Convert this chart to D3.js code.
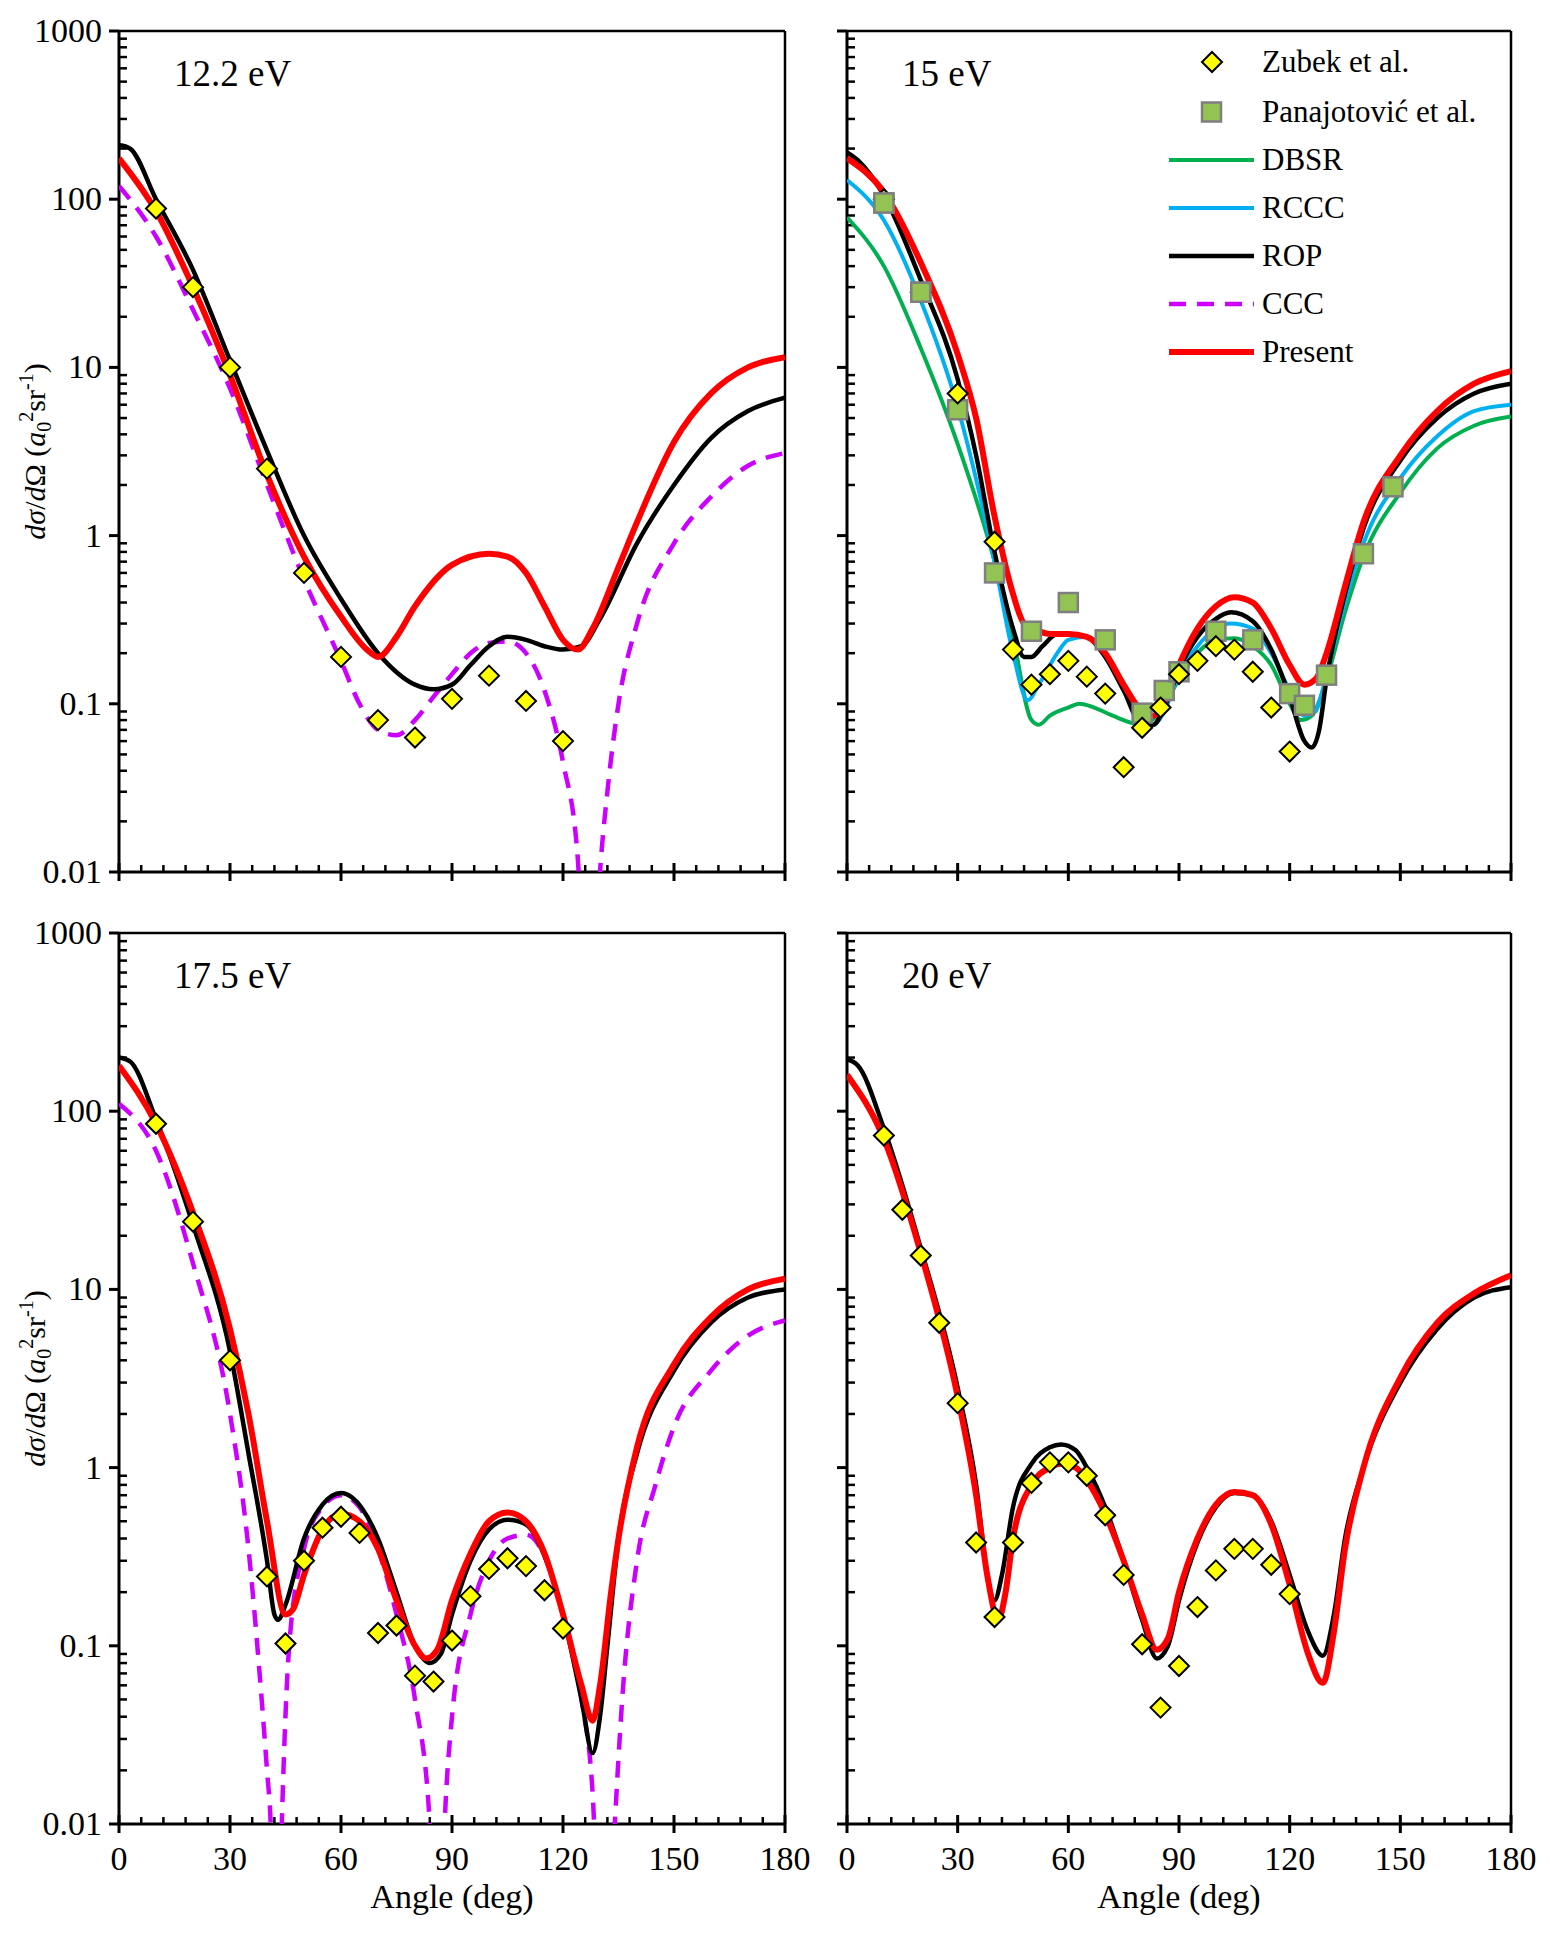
<!DOCTYPE html>
<html><head><meta charset="utf-8">
<script src="https://cdn.jsdelivr.net/npm/d3@7"></script>
<style>body{margin:0;background:#fff}text{font-family:"Liberation Serif","DejaVu Serif",serif;fill:#000}</style>
</head><body><svg id="c" width="1550" height="1935"></svg>
<script>
// ---------- DATA ([angle deg, DCS a0^2 sr^-1]) ----------
const panelTitles = ["12.2 eV","15 eV","17.5 eV","20 eV"];
const xTicks = [0,30,60,90,120,150,180];
const yTicks = [0.01,0.1,1,10,100,1000];
const yTickLabels = ["0.01","0.1","1","10","100","1000"];
const legendLabels = ["Zubek et al.","Panajotović et al.","DBSR","RCCC","ROP","CCC","Present"];

// 12.2 eV
const zubek12 = [[10,88],[20,30],[30,10],[40,2.5],[50,0.6],[60,0.19],[70,0.08],[80,0.063],[90,0.107],[100,0.147],[110,0.104],[120,0.06]];
const rop12 = [[0,210],[3,200],[10,100],[20,38],[30,11],[40,3.2],[50,1.0],[60,0.42],[70,0.2],[80,0.13],[85,0.122],[90,0.13],[95,0.17],[100,0.22],[105,0.25],[110,0.24],[115,0.22],[120,0.21],[125,0.22],[130,0.32],[140,0.9],[150,2.0],[160,3.8],[170,5.5],[180,6.6]];
const present12 = [[0,175],[10,85],[20,30],[30,9],[40,2.3],[50,0.75],[60,0.33],[67,0.21],[70,0.19],[75,0.25],[80,0.38],[90,0.67],[100,0.78],[105,0.75],[110,0.6],[115,0.38],[120,0.24],[124,0.21],[128,0.28],[135,0.65],[140,1.2],[150,3.6],[160,7.0],[170,10],[180,11.5]];
const ccc12 = [[0,120],[10,60],[20,22],[30,7.5],[40,2.0],[50,0.55],[60,0.18],[65,0.1],[70,0.07],[75,0.065],[80,0.08],[85,0.11],[90,0.15],[95,0.2],[100,0.23],[105,0.235],[110,0.2],[115,0.12],[120,0.045],[124,0.012],[127,0.0005],[130,0.01],[132,0.03],[135,0.1],[140,0.3],[150,0.9],[160,1.7],[170,2.6],[180,3.1]];

// 15 eV
const zubek15 = [[10,100],[20,28],[30,7],[40,0.92],[45,0.21],[50,0.13],[55,0.15],[60,0.18],[65,0.145],[70,0.115],[75,0.042],[80,0.072],[85,0.095],[90,0.15],[95,0.18],[100,0.22],[105,0.21],[110,0.155],[115,0.095],[120,0.052]];
const pana15 = [[10,95],[20,28],[30,5.6],[40,0.6],[50,0.27],[60,0.4],[70,0.24],[80,0.088],[86,0.12],[90,0.155],[100,0.27],[110,0.24],[120,0.115],[124,0.098],[130,0.148],[140,0.78],[148,1.95]];
const dbsr15 = [[0,78],[10,40],[20,13],[30,3.5],[40,0.7],[45,0.25],[50,0.08],[52,0.075],[55,0.085],[60,0.095],[63,0.1],[67,0.095],[72,0.085],[80,0.075],[85,0.09],[90,0.14],[95,0.2],[100,0.24],[105,0.245],[110,0.22],[115,0.17],[120,0.1],[123,0.08],[126,0.085],[130,0.14],[135,0.35],[140,0.75],[150,1.8],[160,3.3],[170,4.5],[180,5.1]];
const rccc15 = [[0,130],[10,75],[20,25],[30,5.8],[40,0.7],[45,0.2],[49,0.105],[52,0.13],[57,0.2],[60,0.24],[65,0.25],[70,0.2],[75,0.13],[80,0.085],[83,0.075],[86,0.09],[90,0.15],[95,0.22],[100,0.28],[104,0.3],[110,0.28],[115,0.2],[120,0.12],[124,0.085],[127,0.09],[130,0.15],[135,0.4],[140,0.9],[150,2.2],[160,3.9],[170,5.5],[180,6.0]];
const rop15 = [[0,190],[3,170],[10,105],[20,33],[30,8.5],[35,3.0],[40,0.8],[45,0.28],[48,0.19],[50,0.19],[53,0.22],[57,0.26],[60,0.26],[65,0.25],[70,0.19],[75,0.12],[80,0.075],[83,0.075],[86,0.095],[90,0.16],[95,0.25],[100,0.32],[104,0.35],[110,0.31],[115,0.21],[120,0.11],[124,0.06],[126,0.055],[128,0.07],[130,0.14],[135,0.45],[140,1.1],[150,2.8],[160,5.0],[170,7.0],[180,8.0]];
const present15 = [[0,175],[10,110],[20,42],[30,12],[35,5],[40,1.3],[45,0.45],[48,0.3],[52,0.27],[55,0.26],[60,0.26],[65,0.25],[70,0.2],[75,0.13],[80,0.09],[83,0.085],[86,0.1],[90,0.17],[95,0.28],[100,0.38],[105,0.43],[110,0.4],[115,0.28],[120,0.17],[124,0.13],[127,0.14],[130,0.2],[135,0.5],[140,1.2],[150,3.0],[160,5.5],[170,8.0],[180,9.5]];

// 17.5 eV
const zubek17 = [[10,85],[20,24],[30,4],[40,0.245],[45,0.103],[50,0.3],[55,0.46],[60,0.53],[65,0.43],[70,0.118],[75,0.13],[80,0.068],[85,0.063],[90,0.107],[95,0.19],[100,0.27],[105,0.31],[110,0.28],[115,0.205],[120,0.125]];
const rop17 = [[0,200],[3,190],[10,90],[20,23],[30,4.5],[35,1.2],[40,0.3],[42,0.15],[43,0.14],[45,0.17],[50,0.4],[55,0.62],[60,0.72],[63,0.68],[70,0.4],[75,0.2],[80,0.1],[84,0.08],[87,0.09],[90,0.15],[95,0.3],[100,0.45],[105,0.51],[110,0.48],[115,0.32],[120,0.15],[125,0.05],[128,0.025],[130,0.04],[132,0.1],[135,0.4],[140,1.2],[150,3.5],[160,6.5],[170,9],[180,10]];
const present17 = [[0,180],[10,85],[20,27],[30,6],[35,2.0],[40,0.5],[45,0.15],[47,0.16],[50,0.25],[55,0.45],[60,0.55],[65,0.5],[70,0.35],[75,0.18],[80,0.1],[83,0.085],[86,0.095],[90,0.18],[95,0.33],[100,0.5],[105,0.56],[110,0.5],[115,0.33],[120,0.15],[125,0.06],[128,0.038],[130,0.06],[133,0.2],[135,0.4],[140,1.3],[150,3.8],[160,7],[170,10],[180,11.5]];
const ccc17 = [[0,110],[10,60],[20,14],[30,2.0],[35,0.35],[38,0.07],[40,0.02],[41,0.01],[42.5,0.0005],[44,0.01],[46,0.1],[50,0.35],[55,0.6],[60,0.7],[65,0.6],[70,0.35],[75,0.15],[80,0.05],[84,0.01],[86,0.0005],[88,0.01],[90,0.04],[95,0.15],[100,0.3],[105,0.4],[110,0.42],[115,0.32],[120,0.15],[125,0.05],[128,0.015],[131,0.0005],[134,0.01],[136,0.05],[140,0.3],[145,0.8],[150,1.7],[160,3.5],[170,5.5],[180,6.7]];

// 20 eV
const zubek20 = [[10,73],[15,28],[20,15.5],[25,6.5],[30,2.3],[35,0.38],[40,0.145],[45,0.38],[50,0.82],[55,1.07],[60,1.07],[65,0.9],[70,0.54],[75,0.25],[80,0.102],[85,0.045],[90,0.077],[95,0.165],[100,0.265],[105,0.35],[110,0.35],[115,0.285],[120,0.195]];
const rop20 = [[0,195],[3,180],[10,80],[20,17],[30,2.8],[35,0.8],[38,0.25],[40,0.18],[42,0.25],[45,0.6],[50,1.05],[55,1.3],[58,1.35],[62,1.25],[65,1.0],[70,0.6],[75,0.3],[80,0.14],[84,0.085],[87,0.1],[90,0.18],[95,0.38],[100,0.6],[105,0.72],[110,0.7],[115,0.5],[120,0.25],[125,0.12],[129,0.088],[132,0.15],[135,0.4],[140,1.0],[150,3.0],[160,6.0],[170,9.0],[180,10.3]];
const present20 = [[0,160],[10,70],[20,16],[30,2.5],[35,0.7],[38,0.25],[41,0.14],[43,0.2],[45,0.4],[50,0.8],[55,1.0],[58,1.05],[62,1.0],[65,0.85],[70,0.55],[75,0.3],[80,0.15],[84,0.095],[87,0.11],[90,0.2],[95,0.4],[100,0.62],[105,0.73],[110,0.7],[115,0.48],[120,0.22],[125,0.09],[129,0.062],[132,0.12],[135,0.35],[140,1.0],[150,3.2],[160,6.5],[170,9.5],[180,12]];

// ---------- STYLE ----------
const C = {dbsr:"#00b050", rccc:"#00b0f0", rop:"#000000", ccc:"#cc00ff", present:"#ff0000"};
const panels = [
  {x0:119,x1:785,y0:31,y1:872,title:panelTitles[0],ylab:true,xlab:false,
   lines:[{d:ccc12,c:C.ccc,w:4.5,dash:"17,11"},{d:rop12,c:C.rop,w:4.5},{d:present12,c:C.present,w:6}],
   zubek:zubek12},
  {x0:847,x1:1511,y0:31,y1:872,title:panelTitles[1],ylab:false,xlab:false,
   lines:[{d:dbsr15,c:C.dbsr,w:4},{d:rccc15,c:C.rccc,w:4},{d:rop15,c:C.rop,w:4.5},{d:present15,c:C.present,w:6}],
   zubek:zubek15,pana:pana15,legend:true},
  {x0:119,x1:785,y0:933,y1:1824,title:panelTitles[2],ylab:true,xlab:true,
   lines:[{d:ccc17,c:C.ccc,w:4.5,dash:"17,11"},{d:rop17,c:C.rop,w:4.5},{d:present17,c:C.present,w:6}],
   zubek:zubek17},
  {x0:847,x1:1511,y0:933,y1:1824,title:panelTitles[3],ylab:false,xlab:true,
   lines:[{d:rop20,c:C.rop,w:4.5},{d:present20,c:C.present,w:6}],
   zubek:zubek20}
];

const svg = d3.select("#c");
const diamond = s => `M0,${-s}L${s},0L0,${s}L${-s},0Z`;

panels.forEach((p,i)=>{
  const x = d3.scaleLinear().domain([0,180]).range([p.x0,p.x1]);
  const y = d3.scaleLog().domain([0.01,1000]).range([p.y1,p.y0]);
  const g = svg.append("g");
  g.append("clipPath").attr("id","cp"+i).append("rect")
    .attr("x",p.x0).attr("y",p.y0).attr("width",p.x1-p.x0).attr("height",p.y1-p.y0);

  g.append("line").attr("x1",p.x0).attr("x2",p.x1).attr("y1",p.y0).attr("y2",p.y0).attr("stroke","#000").attr("stroke-width",2.5);
  g.append("line").attr("x1",p.x1).attr("x2",p.x1).attr("y1",p.y0).attr("y2",p.y1).attr("stroke","#000").attr("stroke-width",2.5);

  const minors=[];
  for(let e=-2;e<3;e++) for(let k=2;k<10;k++) minors.push(k*Math.pow(10,e));
  const ya = g.append("g").attr("transform",`translate(${p.x0},0)`);
  ya.append("line").attr("y1",p.y0).attr("y2",p.y1).attr("stroke","#000").attr("stroke-width",3);
  ya.selectAll(".mn").data(minors).join("line").attr("x1",0).attr("x2",8)
    .attr("y1",d=>y(d)).attr("y2",d=>y(d)).attr("stroke","#000").attr("stroke-width",2.5);
  ya.selectAll(".mj").data(yTicks).join("line").attr("x1",-10).attr("x2",0)
    .attr("y1",d=>y(d)).attr("y2",d=>y(d)).attr("stroke","#000").attr("stroke-width",3);
  if(p.ylab) ya.selectAll(".tl").data(yTicks).join("text").attr("x",-17).attr("y",d=>y(d)+11)
    .attr("text-anchor","end").attr("font-size",34).text((d,j)=>yTickLabels[j]);

  const xa = g.append("g").attr("transform",`translate(0,${p.y1})`);
  xa.append("line").attr("x1",p.x0).attr("x2",p.x1).attr("stroke","#000").attr("stroke-width",3);
  xa.selectAll(".mn").data(d3.range(0,181,6).filter(d=>d%30)).join("line")
    .attr("x1",d=>x(d)).attr("x2",d=>x(d)).attr("y1",-7).attr("y2",0).attr("stroke","#000").attr("stroke-width",2.5);
  xa.selectAll(".mj").data(xTicks).join("line")
    .attr("x1",d=>x(d)).attr("x2",d=>x(d)).attr("y1",-9).attr("y2",9).attr("stroke","#000").attr("stroke-width",3);
  if(p.xlab){
    xa.selectAll(".tl").data(xTicks).join("text").attr("x",d=>x(d)).attr("y",46)
      .attr("text-anchor","middle").attr("font-size",34).text(d=>d);
    xa.append("text").attr("x",(p.x0+p.x1)/2).attr("y",84).attr("text-anchor","middle")
      .attr("font-size",34).text("Angle (deg)");
  }
  if(p.ylab){
    const t = g.append("text").attr("transform",`translate(45,${(p.y0+p.y1)/2}) rotate(-90)`)
      .attr("text-anchor","middle").attr("font-size",30);
    t.append("tspan").attr("font-style","italic").text("dσ");
    t.append("tspan").text("/");
    t.append("tspan").attr("font-style","italic").text("d");
    t.append("tspan").text("Ω (");
    t.append("tspan").attr("font-style","italic").text("a");
    t.append("tspan").attr("font-size",20).attr("dy",6).text("0");
    t.append("tspan").attr("font-size",20).attr("dy",-18).text("2");
    t.append("tspan").attr("dy",12).text("sr");
    t.append("tspan").attr("font-size",20).attr("dy",-12).text("-1");
    t.append("tspan").attr("dy",12).text(")");
  }
  g.append("text").attr("x",p.x0+55).attr("y",p.y0+55).attr("font-size",37).text(p.title);

  const line = d3.line().x(d=>x(d[0])).y(d=>y(Math.max(d[1],1e-4))).curve(d3.curveMonotoneX);
  const cg = g.append("g").attr("clip-path",`url(#cp${i})`);
  p.lines.forEach(l=>{
    cg.append("path").attr("d",line(l.d)).attr("fill","none").attr("stroke",l.c)
      .attr("stroke-width",l.w).attr("stroke-dasharray",l.dash||null).attr("stroke-linejoin","round");
  });
  if(p.pana) g.selectAll(".sq").data(p.pana).join("rect")
    .attr("x",d=>x(d[0])-9.5).attr("y",d=>y(d[1])-9.5).attr("width",19).attr("height",19)
    .attr("fill","#92c353").attr("stroke","#7f7f7f").attr("stroke-width",2.5);
  g.selectAll(".dm").data(p.zubek).join("path")
    .attr("transform",d=>`translate(${x(d[0])},${y(d[1])})`).attr("d",diamond(10))
    .attr("fill","#ffff00").attr("stroke","#000").attr("stroke-width",2);
  if(p.pana) g.selectAll(".sq2").data(p.pana.filter(d=>d[0]==10||d[0]==20)).join("rect")
    .attr("x",d=>x(d[0])-9.5).attr("y",d=>y(d[1])-9.5).attr("width",19).attr("height",19)
    .attr("fill","#92c353").attr("stroke","#7f7f7f").attr("stroke-width",2.5);

  if(p.legend){
    const lx=1169, tx=1262, ys=[62,112,160,208,256,304,352];
    const L = g.append("g");
    L.append("path").attr("transform",`translate(1212,${ys[0]})`).attr("d",diamond(10))
      .attr("fill","#ffff00").attr("stroke","#000").attr("stroke-width",2);
    L.append("rect").attr("x",1202).attr("y",ys[1]-9.5).attr("width",19).attr("height",19)
      .attr("fill","#92c353").attr("stroke","#7f7f7f").attr("stroke-width",2.5);
    const ls=[[C.dbsr,4,null],[C.rccc,4,null],[C.rop,4.5,null],[C.ccc,4.5,"17,11"],[C.present,6,null]];
    ls.forEach((s,j)=>L.append("line").attr("x1",lx).attr("x2",1254).attr("y1",ys[j+2]).attr("y2",ys[j+2])
      .attr("stroke",s[0]).attr("stroke-width",s[1]).attr("stroke-dasharray",s[2]));
    legendLabels.forEach((t,j)=>L.append("text").attr("x",tx).attr("y",ys[j]+10).attr("font-size",31).text(t));
  }
});
</script></body></html>
